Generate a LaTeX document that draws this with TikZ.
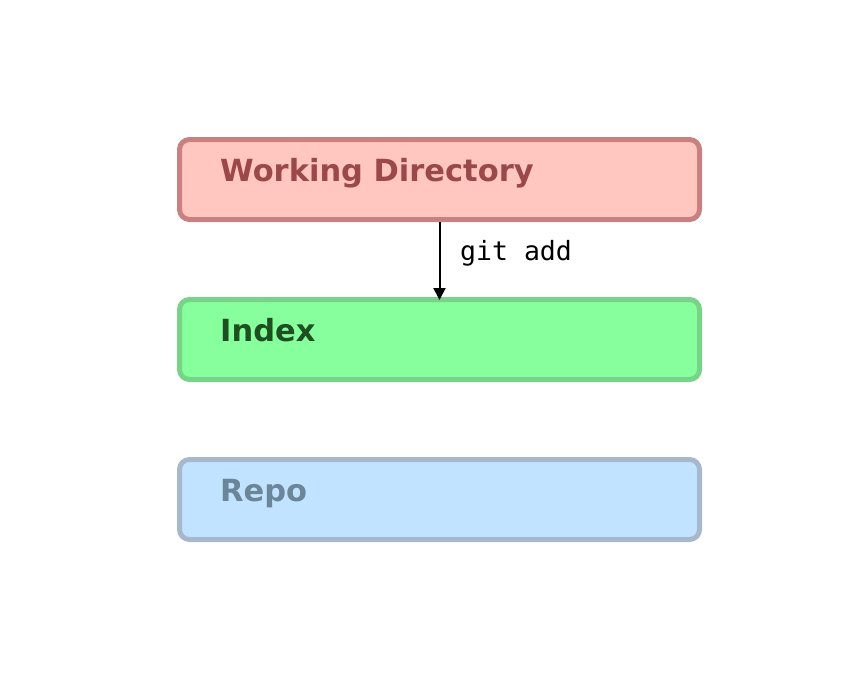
\documentclass[tikz,border=0pt]{standalone}
\usepackage{fontspec}
\setmainfont{DejaVu Sans}
\setmonofont{DejaVu Sans Mono}
\usetikzlibrary{arrows.meta}
\definecolor{wdfill}{HTML}{FFC7C0}
\definecolor{wdline}{HTML}{C88080}
\definecolor{wdtext}{HTML}{9B4848}
\definecolor{ixfill}{HTML}{88FF9D}
\definecolor{ixline}{HTML}{77D387}
\definecolor{ixtext}{HTML}{1E4F20}
\definecolor{rpfill}{HTML}{C2E3FF}
\definecolor{rpline}{HTML}{A8B8CC}
\definecolor{rptext}{HTML}{6B8599}
\tikzset{
  areabox/.style={draw, line width=5pt, rounded corners=10pt, minimum width=520pt, minimum height=80pt, inner sep=0pt},
  areatitle/.style={anchor=base west, inner sep=0pt, font=\fontsize{30.5}{36}\selectfont\bfseries},
}
\begin{document}
\begin{tikzpicture}[x=1pt,y=-1pt]
\useasboundingbox (0,0) rectangle (860,680);
\node[areabox, fill=wdfill, draw=wdline] (wd) at (439.5,179.5) {};
\node[areabox, fill=ixfill, draw=ixline] (ix) at (439.5,339.5) {};
\node[areabox, fill=rpfill, draw=rpline] (rp) at (439.5,499.5) {};
\node[areatitle, text=wdtext] (wdt) at (220,181) {Working Directory};
\node[areatitle, text=ixtext] (ixt) at (220,341) {Index};
\node[areatitle, text=rptext] (rpt) at (220,501) {Repo};
\draw[line width=2pt, shorten >=-3pt, -{Triangle[length=12pt,width=12pt]}] (wd.south) -- (ix.north);
\node[anchor=base west, inner sep=0pt, font=\ttfamily\fontsize{26.5}{30}\selectfont] (lbl) at (460,260) {git add};
\end{tikzpicture}
\end{document}
